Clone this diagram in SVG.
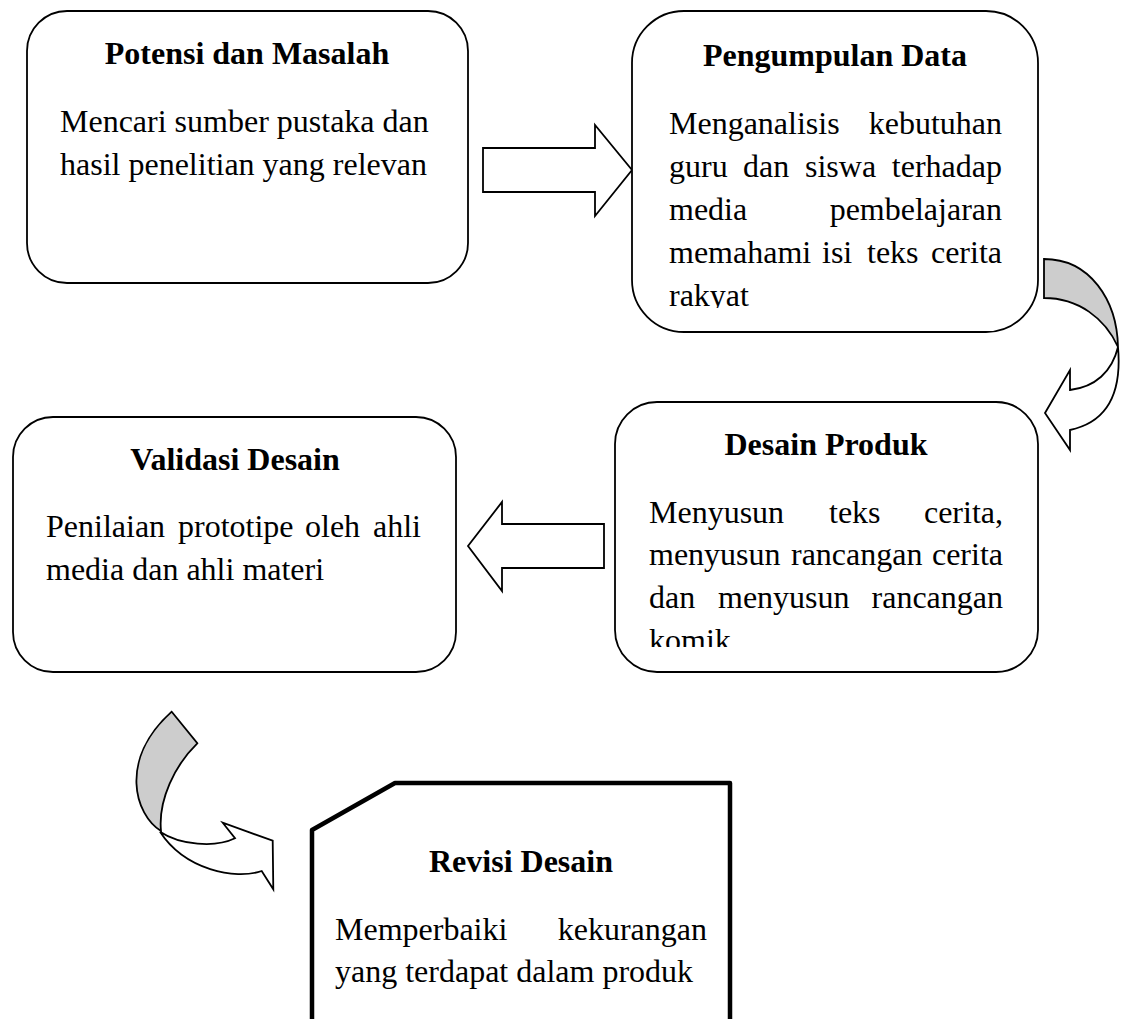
<svg xmlns="http://www.w3.org/2000/svg" width="1125" height="1019" viewBox="0 0 1125 1019">
<style>
.box{fill:#fff;stroke:#000;stroke-width:1.8}
.rev{fill:#fff;stroke:#000;stroke-width:4.5;stroke-linejoin:round}
.arr{fill:#fff;stroke:#000;stroke-width:1.8;stroke-linejoin:miter}
.back{fill:#cdcdcd;stroke:#000;stroke-width:1.8}
text{font-family:"Liberation Serif","Times New Roman",serif;font-size:32px;fill:#000}
.ttl{font-weight:bold;text-anchor:middle}
.e{text-anchor:end}
</style>
<defs>
<clipPath id="clipData"><rect x="632" y="11" width="406" height="297"/></clipPath>
<clipPath id="clipProduk"><rect x="615" y="402" width="423" height="245"/></clipPath>
</defs>
<rect width="1125" height="1019" fill="#fff"/>

<g id="connectors">
<polygon class="arr" points="483,148 595,148 595,125 632,170 595,216 595,192 483,192"/>
<polygon class="arr" points="604,524 502,524 502,502 468,546 502,591 502,568 604,568"/>
<g id="curve1">
<path class="back" d="M1044,259 C1090,259 1117,300 1118,347 C1105,318 1078,298 1044,298 Z"/>
<path class="arr" d="M1118,347 C1112,372 1095,387 1070,390 L1070,370 L1045,413 L1070,450 L1070,430 C1108,422 1122,392 1118,347 Z"/>
</g>
<g id="curve2">
<path class="back" d="M171.7,711.7 L197.3,743.3 C175,765 158,800 161,831 C135,815 118,760 171.7,711.7 Z"/>
<path class="arr" d="M160,831.7 C180,845 215,848 235,838.3 L222.7,822.7 L272.7,840.7 L273.3,889.3 L261.7,871 C235,880 185,870 160,831.7 Z"/>
</g>
</g>

<g id="potensi">
<rect class="box" x="27" y="11" width="441" height="272" rx="40" ry="40"/>
<text class="ttl" x="247" y="64">Potensi dan Masalah</text>
<text x="60" y="132">Mencari sumber pustaka dan</text>
<text x="60" y="175">hasil penelitian yang relevan</text>
</g>

<g id="pengumpulan">
<rect class="box" x="632" y="11" width="406" height="321" rx="52" ry="52"/>
<text class="ttl" x="835" y="66">Pengumpulan Data</text>
<g clip-path="url(#clipData)">
<text y="134"><tspan x="669">Menganalisis</tspan><tspan class="e" x="1002">kebutuhan</tspan></text>
<text y="177"><tspan x="669">guru</tspan><tspan x="743">dan</tspan><tspan x="805">siswa</tspan><tspan class="e" x="1002">terhadap</tspan></text>
<text y="220"><tspan x="669">media</tspan><tspan class="e" x="1002">pembelajaran</tspan></text>
<text y="263"><tspan x="669">memahami</tspan><tspan x="822">isi</tspan><tspan x="867">teks</tspan><tspan class="e" x="1002">cerita</tspan></text>
<text x="669" y="306">rakyat</text>
</g>
</g>

<g id="desain-produk">
<rect class="box" x="615" y="402" width="423" height="270" rx="42" ry="42"/>
<text class="ttl" x="826" y="455">Desain Produk</text>
<g clip-path="url(#clipProduk)">
<text y="523"><tspan x="649">Menyusun</tspan><tspan x="829">teks</tspan><tspan class="e" x="1003">cerita,</tspan></text>
<text y="565"><tspan x="649">menyusun</tspan><tspan x="791">rancangan</tspan><tspan class="e" x="1003">cerita</tspan></text>
<text y="608"><tspan x="649">dan</tspan><tspan x="718">menyusun</tspan><tspan class="e" x="1003">rancangan</tspan></text>
<text x="649" y="651">komik</text>
</g>
</g>

<g id="validasi">
<rect class="box" x="13" y="417" width="443" height="255" rx="40" ry="40"/>
<text class="ttl" x="235" y="470">Validasi Desain</text>
<text y="537"><tspan x="46">Penilaian</tspan><tspan x="178">prototipe</tspan><tspan x="305">oleh</tspan><tspan class="e" x="421">ahli</tspan></text>
<text x="46" y="580">media dan ahli materi</text>
</g>

<g id="revisi">
<path class="rev" d="M312,1030 L312,830 L395,783 L730,783 L730,1030 Z"/>
<text class="ttl" x="521" y="872">Revisi Desain</text>
<text y="940"><tspan x="335">Memperbaiki</tspan><tspan class="e" x="707">kekurangan</tspan></text>
<text x="335" y="982">yang terdapat dalam produk</text>
</g>
</svg>
